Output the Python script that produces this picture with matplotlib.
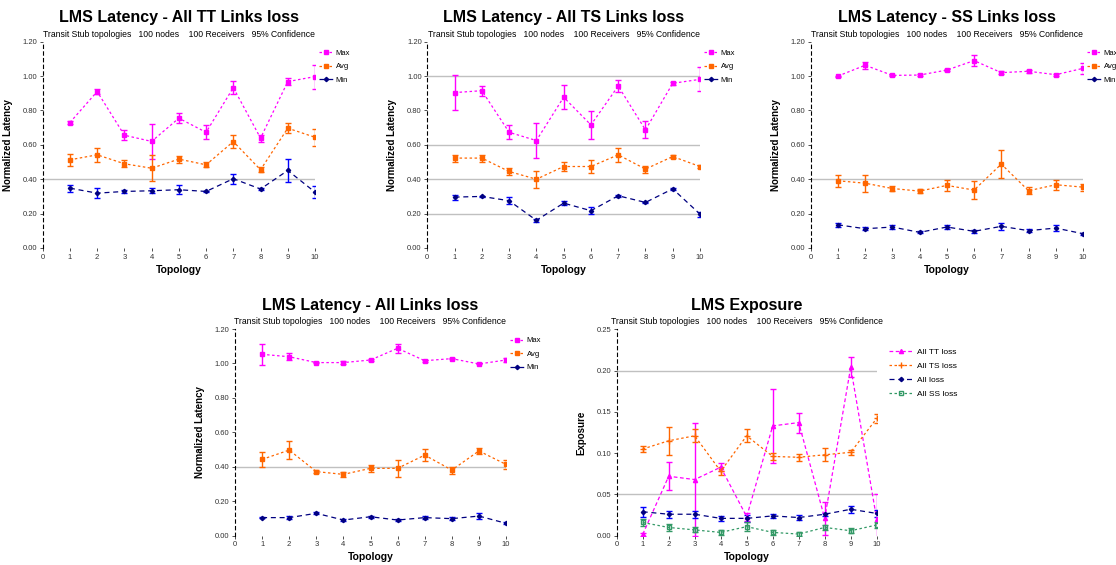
import numpy as np
import matplotlib
matplotlib.use("Agg")
from matplotlib import pyplot as plt

plt.rcParams['font.family'] = ['Liberation Sans', 'DejaVu Sans']

# topology index
topo = [1, 2, 3, 4, 5, 6, 7, 8, 9, 10]
subtitle = "Transit Stub topologies   100 nodes    100 Receivers   95% Confidence"

# LMS Latency - All TT Links loss
tt_max = [0.73, 0.91, 0.656, 0.62, 0.755, 0.673, 0.933, 0.639, 0.968, 0.997]
tt_max_err = [0.01, 0.015, 0.03, 0.10, 0.03, 0.04, 0.04, 0.02, 0.02, 0.07]
tt_avg = [0.513, 0.542, 0.49, 0.464, 0.517, 0.484, 0.619, 0.455, 0.697, 0.644]
tt_avg_err = [0.035, 0.04, 0.02, 0.075, 0.02, 0.015, 0.04, 0.015, 0.03, 0.05]
tt_min = [0.348, 0.319, 0.329, 0.333, 0.339, 0.329, 0.403, 0.343, 0.451, 0.325]
tt_min_err = [0.02, 0.03, 0.01, 0.015, 0.025, 0.005, 0.03, 0.005, 0.065, 0.035]

# LMS Latency - All TS Links loss
ts_max = [0.904, 0.915, 0.673, 0.625, 0.877, 0.716, 0.942, 0.687, 0.958, 0.981]
ts_max_err = [0.10, 0.03, 0.04, 0.10, 0.07, 0.08, 0.035, 0.05, 0.01, 0.07]
ts_avg = [0.523, 0.523, 0.445, 0.40, 0.474, 0.474, 0.542, 0.459, 0.532, 0.474]
ts_avg_err = [0.02, 0.02, 0.02, 0.05, 0.025, 0.04, 0.04, 0.02, 0.01, 0.01]
ts_min = [0.296, 0.30, 0.275, 0.161, 0.261, 0.217, 0.304, 0.265, 0.344, 0.197]
ts_min_err = [0.015, 0.005, 0.02, 0.01, 0.01, 0.02, 0.005, 0.005, 0.005, 0.015]

# LMS Latency - SS Links loss
ss_max = [1.00, 1.063, 1.004, 1.006, 1.035, 1.09, 1.02, 1.028, 1.008, 1.045]
ss_max_err = [0.003, 0.02, 0.005, 0.005, 0.008, 0.03, 0.01, 0.01, 0.005, 0.03]
ss_avg = [0.391, 0.377, 0.346, 0.331, 0.364, 0.337, 0.488, 0.333, 0.368, 0.354]
ss_avg_err = [0.035, 0.05, 0.015, 0.01, 0.03, 0.05, 0.08, 0.02, 0.03, 0.02]
ss_min = [0.135, 0.112, 0.122, 0.091, 0.122, 0.097, 0.126, 0.101, 0.116, 0.083]
ss_min_err = [0.01, 0.01, 0.01, 0.005, 0.01, 0.01, 0.02, 0.01, 0.015, 0.005]

# LMS Latency - All Links loss
al_max = [1.053, 1.039, 1.005, 1.005, 1.02, 1.088, 1.016, 1.028, 0.997, 1.02]
al_max_err = [0.06, 0.02, 0.005, 0.008, 0.005, 0.025, 0.005, 0.005, 0.003, 0.01]
al_avg = [0.443, 0.497, 0.372, 0.356, 0.391, 0.391, 0.468, 0.381, 0.492, 0.414]
al_avg_err = [0.045, 0.05, 0.01, 0.015, 0.02, 0.05, 0.035, 0.02, 0.015, 0.025]
al_min = [0.105, 0.105, 0.13, 0.091, 0.11, 0.091, 0.105, 0.099, 0.114, 0.072]
al_min_err = [0.005, 0.01, 0.005, 0.005, 0.005, 0.005, 0.01, 0.01, 0.015, 0.005]

# LMS Exposure
ex_tt = [0.0016, 0.072, 0.068, 0.083, 0.023, 0.133, 0.137, 0.021, 0.204, 0.02]
ex_tt_err = [0.002, 0.017, 0.068, 0.005, 0.005, 0.045, 0.012, 0.02, 0.012, 0.03]
ex_ts = [0.105, 0.115, 0.121, 0.078, 0.121, 0.096, 0.095, 0.098, 0.101, 0.142]
ex_ts_err = [0.004, 0.017, 0.008, 0.005, 0.008, 0.004, 0.004, 0.008, 0.003, 0.006]
ex_all = [0.029, 0.026, 0.026, 0.021, 0.021, 0.024, 0.022, 0.026, 0.032, 0.027]
ex_all_err = [0.006, 0.004, 0.004, 0.003, 0.004, 0.002, 0.003, 0.002, 0.004, 0.004]
ex_ss = [0.016, 0.01, 0.007, 0.004, 0.011, 0.004, 0.002, 0.01, 0.006, 0.013]
ex_ss_err = [0.004, 0.004, 0.003, 0.003, 0.005, 0.003, 0.002, 0.003, 0.003, 0.004]

W, H = 1116, 565
fig = plt.figure(figsize=(W / 100, H / 100), dpi=100)

MAG, ORA, NAVY, BLUE, GRN = '#ff00ff', '#ff6600', '#000080', '#0000ff', '#339966'


def make_axes(left, right, top, bottom):
    return fig.add_axes([left / W, 1 - bottom / H, (right - left) / W, (bottom - top) / H])


def style(ax, title, ylabel, ymax, ystep, grid, width_px):
    ax.set_xlim(0, 10)
    ax.set_ylim(0, ymax)
    ax.set_xticks(range(11))
    yt = np.arange(0, ymax + ystep / 2, ystep)
    ax.set_yticks(yt)
    ax.set_yticklabels(['%.2f' % v for v in yt])
    ax.tick_params(labelsize=5.5, length=2, width=0.6, colors='#333333', pad=2)
    for s in ['top', 'right', 'bottom']:
        ax.spines[s].set_visible(False)
    ax.spines['left'].set_linestyle((0, (3, 3)))
    ax.spines['left'].set_linewidth(0.8)
    for g in grid:
        ax.axhline(g, color='#c0c0c0', lw=1, zorder=0)
    ax.set_title(title, fontsize=11.5, fontweight='bold', pad=14)
    ax.text(0.5, 1.015, subtitle, transform=ax.transAxes, ha='center', va='bottom', fontsize=6.2)
    ax.set_xlabel('Topology', fontsize=7.5, fontweight='bold', labelpad=3)
    ax.set_ylabel(ylabel, fontsize=7, fontweight='bold')
    ax.yaxis.set_label_coords(-30 / width_px, 0.5)


def latency(ax, mx, mxe, av, ave, mn, mne):
    c1 = ax.errorbar(topo, mx, yerr=mxe, color=MAG, ls=(0, (2, 2)), lw=0.9, marker='s', ms=2.5,
                     capsize=2, elinewidth=1)
    c2 = ax.errorbar(topo, av, yerr=ave, color=ORA, ls=(0, (2, 2)), lw=0.9, marker='s', ms=2.5,
                     capsize=2, elinewidth=1)
    c3 = ax.errorbar(topo, mn, yerr=mne, color=NAVY, ecolor=BLUE, ls=(0, (4, 3)), lw=0.9, marker='D', ms=2.2,
                     capsize=2, elinewidth=1)
    ax.legend(handles=[c1[0], c2[0], c3[0]], labels=['Max', 'Avg', 'Min'],
              loc='upper left', bbox_to_anchor=(1.0, 0.98), frameon=False, fontsize=5.5,
              handlelength=1.8, labelspacing=0.8, borderpad=0, handletextpad=0.4)


panels = [
    ((42.7, 315, 41.7, 248), 'LMS Latency - All TT Links loss', [0.4],
     (tt_max, tt_max_err, tt_avg, tt_avg_err, tt_min, tt_min_err)),
    ((427.3, 700, 41.7, 248), 'LMS Latency - All TS Links loss', [1.0, 0.6, 0.4, 0.2],
     (ts_max, ts_max_err, ts_avg, ts_avg_err, ts_min, ts_min_err)),
    ((810.7, 1083, 41.7, 248), 'LMS Latency - SS Links loss', [0.4],
     (ss_max, ss_max_err, ss_avg, ss_avg_err, ss_min, ss_min_err)),
    ((235, 506, 329, 535.7), 'LMS Latency - All Links loss', [0.4],
     (al_max, al_max_err, al_avg, al_avg_err, al_min, al_min_err)),
]

for rect, title, grid, data in panels:
    ax = make_axes(*rect)
    style(ax, title, 'Normalized Latency', 1.2, 0.2, grid, rect[1] - rect[0])
    latency(ax, *data)

# exposure panel
rect = (616.7, 876.7, 329.3, 535.7)
ax = make_axes(*rect)
style(ax, 'LMS Exposure', 'Exposure', 0.25, 0.05, [0.2, 0.05], rect[1] - rect[0])
e1 = ax.errorbar(topo, ex_tt, yerr=ex_tt_err, color=MAG, ls=(0, (3, 2)), lw=0.9, marker='^', ms=3,
                 capsize=2, elinewidth=1)
e2 = ax.errorbar(topo, ex_ts, yerr=ex_ts_err, color=ORA, ls=(0, (2, 2)), lw=0.9, marker='+', ms=4,
                 capsize=2, elinewidth=1)
e3 = ax.errorbar(topo, ex_all, yerr=ex_all_err, color=NAVY, ecolor=BLUE, ls=(0, (4, 3)), lw=0.9, marker='D',
                 ms=2.2, capsize=2, elinewidth=1)
e4 = ax.errorbar(topo, ex_ss, yerr=ex_ss_err, color=GRN, ls=(0, (2, 2)), lw=0.9, marker='s', ms=3, mfc='none',
                 capsize=2, elinewidth=1)
ax.legend(handles=[e1[0], e2[0], e3[0], e4[0]],
          labels=['All TT loss', 'All TS loss', 'All loss', 'All SS loss'],
          loc='upper left', bbox_to_anchor=(1.03, 0.93), frameon=False, fontsize=6,
          handlelength=3, labelspacing=0.75, borderpad=0, handletextpad=0.4)

fig.savefig('out.png', dpi=100)
